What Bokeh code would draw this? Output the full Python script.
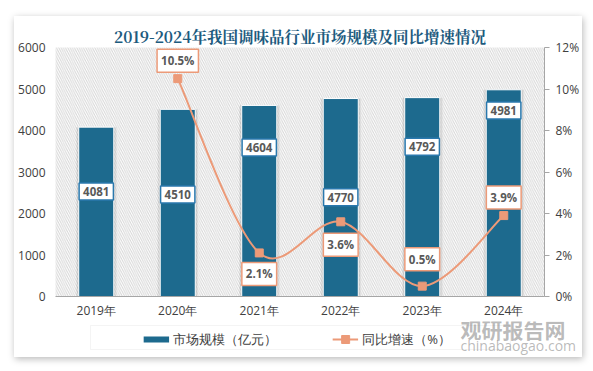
from bokeh.plotting import figure
from bokeh.layouts import column
from bokeh.models import (ColumnDataSource, Range1d, LinearAxis, FixedTicker, PrintfTickFormatter,
                          BoxAnnotation, Legend, LegendItem, Label)
from bokeh.embed import file_html
from bokeh.resources import INLINE
from bokeh.core.properties import value

# ---------------- data ----------------
years = ["2019年", "2020年", "2021年", "2022年", "2023年", "2024年"]
market_size = [4081, 4510, 4604, 4770, 4792, 4981]          # 亿元
growth_years = ["2020年", "2021年", "2022年", "2023年", "2024年"]
growth_rate = [10.5, 2.1, 3.6, 0.5, 3.9]                    # %
size_ticks = [0, 1000, 2000, 3000, 4000, 5000, 6000]
pct_ticks = [0, 2, 4, 6, 8, 10, 12]

# label placement (style only)
bar_label_y = [2530, 2460, 3590, 2390, 3610, 4480]       # centre of value boxes (axis units)
pct_label_up = [18, -21, -23, 27, 18]                    # px above (+) / below (-) the point

BAR = "#1d6a8e"
LINE = "#ec9a78"
TXT = "#404040"
FONT = "Open Sans"

p = figure(frame_width=489, frame_height=249, output_backend="svg", toolbar_location=None,
           x_range=Range1d(-0.5, len(years) - 0.5), y_range=Range1d(0, 6000),
           min_border_left=41, min_border_right=36, min_border_top=31, min_border_bottom=21)
p.extra_y_ranges = {"pct": Range1d(0, 12)}
p.border_fill_color = "white"
p.background_fill_color = "white"
p.outline_line_color = None
p.grid.visible = False

# hatched plot area (clipped to the frame)
p.add_layout(BoxAnnotation(left=0, right=600, top=0, bottom=400,
                           left_units="canvas", right_units="canvas", top_units="canvas", bottom_units="canvas",
                           fill_color="white", fill_alpha=1, line_color=None,
                           hatch_pattern="\\", hatch_color="#d6d6d6", hatch_scale=4.5, hatch_weight=1,
                           level="underlay"))

xs = list(range(len(years)))
src = ColumnDataSource(dict(x=xs, top=market_size, ly=bar_label_y, txt=[str(v) for v in market_size]))
# soft shadow behind the bars
for w, a in [(0.50, 0.05), (0.47, 0.08)]:
    p.vbar(x="x", top="top", width=w, source=src, fill_color="black", fill_alpha=a, line_color=None)
p.vbar(x="x", top="top", width=0.43, source=src, fill_color=BAR, line_color="white", line_width=1)

# smooth growth line (Catmull-Rom -> cubic bezier control points derived from data)
gx = [years.index(g) for g in growth_years]
gy = growth_rate
n = len(gx)
bz = dict(x0=[], y0=[], x1=[], y1=[], cx0=[], cy0=[], cx1=[], cy1=[])
for i in range(n - 1):
    pm = i - 1 if i > 0 else i
    pn = i + 2 if i + 2 < n else i + 1
    bz["x0"].append(gx[i]); bz["y0"].append(gy[i])
    bz["x1"].append(gx[i + 1]); bz["y1"].append(gy[i + 1])
    bz["cx0"].append(gx[i] + (gx[i + 1] - gx[pm]) / 6); bz["cy0"].append(gy[i] + (gy[i + 1] - gy[pm]) / 6)
    bz["cx1"].append(gx[i + 1] - (gx[pn] - gx[i]) / 6); bz["cy1"].append(gy[i + 1] - (gy[pn] - gy[i]) / 6)
p.bezier(x0="x0", y0="y0", x1="x1", y1="y1", cx0="cx0", cy0="cy0", cx1="cx1", cy1="cy1",
         source=ColumnDataSource(bz), line_color=LINE, line_width=2, y_range_name="pct")
gsrc = ColumnDataSource(dict(x=gx, y=gy, dy=[-d for d in pct_label_up], txt=[f"{v}%" for v in gy]))
p.scatter(x="x", y="y", source=gsrc, marker="square", size=8, fill_color=LINE, line_color=LINE,
          y_range_name="pct")

# data labels
p.text(x="x", y="ly", text="txt", source=src, text_align="center", text_baseline="middle",
       text_font=value(FONT), text_font_style="bold", text_font_size="11.5px", text_color="#595959",
       background_fill_color="white", border_line_color="#2a78ad", border_line_width=1.5, padding=4)
p.text(x="x", y="y", y_offset="dy", text="txt", source=gsrc, y_range_name="pct",
       text_align="center", text_baseline="middle",
       text_font=value(FONT), text_font_style="bold", text_font_size="11.5px", text_color="#595959",
       background_fill_color="white", border_line_color=LINE, border_line_width=1.5, padding=4)

# axes
xa = p.xaxis[0]
xa.ticker = FixedTicker(ticks=xs)
xa.major_label_overrides = {i: y for i, y in enumerate(years)}
xa.axis_line_color = "#a6a6a6"
xa.major_tick_line_color = None
xa.major_tick_out = 0
xa.minor_tick_line_color = None
xa.major_label_standoff = 5
xa.major_label_text_font = FONT
xa.major_label_text_font_size = "12px"
xa.major_label_text_color = TXT

ya = p.yaxis[0]
ya.ticker = FixedTicker(ticks=size_ticks)
ya.axis_line_color = None
ya.major_tick_line_color = None
ya.major_tick_out = 0
ya.minor_tick_line_color = None
ya.major_label_standoff = 10
ya.major_label_text_font = FONT
ya.major_label_text_font_size = "12px"
ya.major_label_text_color = TXT

ra = LinearAxis(y_range_name="pct", ticker=FixedTicker(ticks=pct_ticks), formatter=PrintfTickFormatter(format="%d%%"))
ra.axis_line_color = "#a6a6a6"
ra.major_tick_line_color = "#a6a6a6"
ra.major_tick_out = 5
ra.major_tick_in = 0
ra.minor_tick_line_color = None
ra.major_label_standoff = 6
ra.major_label_text_font = FONT
ra.major_label_text_font_size = "12px"
ra.major_label_text_color = TXT
p.add_layout(ra, "right")

# title
p.title.text = "2019-2024年我国调味品行业市场规模及同比增速情况"
p.title.align = "center"
p.title.text_font = "Noto Serif CJK SC"
p.title.text_font_size = "15.5px"
p.title.text_font_style = "bold"
p.title.text_color = "#1d5b7e"
p.title.standoff = 2

# ---------------- legend strip (second figure of the card) ----------------
# strip coordinates are pixels: x measured from the plot frame's left edge (+100), y downward as negatives
strip = figure(frame_width=566, frame_height=36, output_backend="svg", toolbar_location=None,
               x_range=Range1d(100, 666), y_range=Range1d(-36, 0),
               x_axis_location=None, y_axis_location=None, min_border=0)
strip.grid.visible = False
strip.outline_line_color = None
strip.border_fill_color = "white"
strip.background_fill_color = "white"
# legend frame box
strip.add_layout(BoxAnnotation(left=135, right=555, top=-4, bottom=-28, fill_alpha=0,
                               line_color="#d9d9d9", line_width=1, line_dash="solid"))
# proxies bound to the real data (their values lie outside this strip's ranges)
bar_proxy = strip.line(x="x", y="top", source=src, line_color=BAR, line_width=6)
line_proxy = strip.line(x="x", y="y", source=gsrc, line_color=LINE, line_width=2)
mark_proxy = strip.scatter(x="x", y="y", source=gsrc, marker="square", fill_color=LINE, line_color=LINE)
legend = Legend(items=[LegendItem(label="市场规模（亿元）", renderers=[bar_proxy]),
                       LegendItem(label="同比增速（%）", renderers=[line_proxy, mark_proxy])],
                orientation="horizontal", location="center", border_line_color=None,
                background_fill_alpha=0, glyph_width=26, glyph_height=20, label_standoff=4,
                spacing=55, padding=2, margin=0,
                label_text_font=FONT, label_text_font_size="13px", label_text_color=TXT)
strip.add_layout(legend)
# watermark
strip.add_layout(Label(x=505, y=-7, text="观研报告网", text_font="Noto Sans CJK SC", text_font_style="bold",
                       text_font_size="21px", text_color="#7f7f7f", text_alpha=0.55, text_baseline="middle"))
strip.add_layout(Label(x=505, y=-24, text="chinabaogao.com", text_font=FONT, text_font_size="14px",
                       text_color="#7f7f7f", text_alpha=0.55, text_baseline="middle"))

card = column(p, strip, styles={"margin-left": "14px", "margin-top": "16px", "background": "white",
                                "box-shadow": "1px 2px 7px rgba(0,0,0,0.28)"})

open("out.html", "w").write(file_html(card, INLINE))
